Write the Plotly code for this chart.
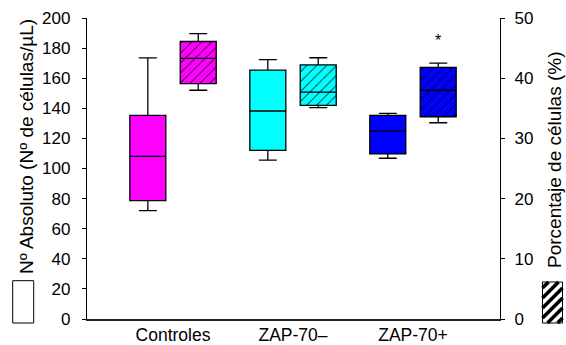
import plotly.graph_objects as go

categories = ["Controles", "ZAP-70–", "ZAP-70+"]
colors = ["#FF00FF", "#00FFFF", "#0000FF"]

# Nº absoluto (células/µL) - solid boxes, left axis
abs_low = [72.0, 105.5, 106.8]
abs_q1 = [78.6, 112.0, 109.7]
abs_med = [108.0, 138.2, 124.9]
abs_q3 = [135.3, 165.3, 135.3]
abs_high = [173.5, 172.4, 136.6]

# Porcentaje de células (%) - hatched boxes, right axis
pct_low = [38.0, 35.1, 32.6]
pct_q1 = [39.1, 35.5, 33.6]
pct_med = [43.3, 37.7, 38.0]
pct_q3 = [46.1, 42.2, 41.8]
pct_high = [47.4, 43.4, 42.5]

y_ticks = list(range(0, 201, 20))
y2_ticks = list(range(0, 51, 10))

W, H = 566, 345
L, R, T, B = 87, 66, 18, 26
FONT = "Liberation Sans, Arial, sans-serif"

OFF = 0.21
BW = 0.3

fig = go.Figure()

for i, cat in enumerate(categories):
    fig.add_trace(go.Box(
        x=[i - OFF], q1=[abs_q1[i]], median=[abs_med[i]], q3=[abs_q3[i]],
        lowerfence=[abs_low[i]], upperfence=[abs_high[i]],
        width=BW, whiskerwidth=0.5, fillcolor=colors[i],
        line=dict(color="black", width=1.3), boxpoints=False,
        showlegend=False, yaxis="y", name=cat))

for i, cat in enumerate(categories):
    fig.add_trace(go.Bar(
        x=[i + OFF], base=[pct_q1[i]], y=[pct_q3[i] - pct_q1[i]], width=BW,
        marker=dict(color=colors[i], line=dict(width=0),
                    pattern=dict(shape="/", fgcolor="black", bgcolor=colors[i],
                                 size=7, solidity=0.14, fillmode="replace")),
        showlegend=False, yaxis="y2", hoverinfo="skip"))
    fig.add_trace(go.Box(
        x=[i + OFF], q1=[pct_q1[i]], median=[pct_med[i]], q3=[pct_q3[i]],
        lowerfence=[pct_low[i]], upperfence=[pct_high[i]],
        width=BW, whiskerwidth=0.5, fillcolor="rgba(0,0,0,0)",
        line=dict(color="black", width=1.3), boxpoints=False,
        showlegend=False, yaxis="y2", name=cat))

pw = W - L - R
ph = H - T - B


def px(x):
    return (x - L) / pw


def py(y):
    return (H - B - y) / ph


shapes = []
# left legend swatch (white)
shapes.append(dict(type="rect", xref="paper", yref="paper",
                   x0=px(12.7), x1=px(33.7), y0=py(323), y1=py(280.7),
                   line=dict(color="black", width=1), fillcolor="white"))
# right legend swatch (hatched)
rx0, rx1, ry0, ry1 = 542.5, 562.5, 282.0, 323.0
shapes.append(dict(type="rect", xref="paper", yref="paper",
                   x0=px(rx0), x1=px(rx1), y0=py(ry1), y1=py(ry0),
                   line=dict(color="black", width=1), fillcolor="white"))
step = 10.0
c = rx0 + ry0 + 6
while c < rx1 + ry1:
    xa = max(rx0, c - ry1)
    xb = min(rx1, c - ry0)
    if xb - xa > 1:
        shapes.append(dict(type="line", xref="paper", yref="paper",
                           x0=px(xa), y0=py(c - xa), x1=px(xb), y1=py(c - xb),
                           line=dict(color="black", width=3.5)))
    c += step

annotations = [
    dict(text="Nº Absoluto (Nº de células/µL)", xref="paper", yref="paper",
         x=px(26), y=py(147), textangle=-90, showarrow=False,
         font=dict(size=19, color="black", family=FONT), xanchor="center", yanchor="middle"),
    dict(text="Porcentaje de células (%)", xref="paper", yref="paper",
         x=px(554), y=py(160), textangle=-90, showarrow=False,
         font=dict(size=19, color="black", family=FONT), xanchor="center", yanchor="middle"),
    dict(text="*", x=2 + OFF, y=46.2, xref="x", yref="y2", showarrow=False,
         font=dict(size=16, color="black", family=FONT), yanchor="middle"),
]

fig.update_layout(
    template="none",
    width=W, height=H, margin=dict(l=L, r=R, t=T, b=B, autoexpand=False),
    paper_bgcolor="white", plot_bgcolor="white",
    barmode="overlay", boxmode="overlay",
    font=dict(family=FONT, color="black"),
    xaxis=dict(range=[-0.717, 2.725], tickvals=[0, 1, 2], ticktext=categories,
               showline=True, linecolor="#222", linewidth=2, ticks="",
               showgrid=False, zeroline=False, tickfont=dict(size=17.5),
               ticklabelstandoff=-1, automargin=False),
    yaxis=dict(range=[0, 200], tickvals=y_ticks, showline=True, linecolor="black",
               linewidth=1.3, ticks="outside", ticklen=4, tickcolor="black",
               showgrid=False, zeroline=False, tickfont=dict(size=17),
               ticklabelstandoff=8, automargin=False),
    yaxis2=dict(range=[0, 50], tickvals=y2_ticks, overlaying="y", side="right",
                showline=True, linecolor="black", linewidth=1.3, ticks="outside",
                ticklen=4, tickcolor="black", showgrid=False, zeroline=False,
                tickfont=dict(size=17), ticklabelstandoff=6, automargin=False),
    shapes=shapes, annotations=annotations,
)

fig.write_html(
    "out.html",
    config={"displayModeBar": False},
    post_script="document.body.style.margin='0';document.body.style.overflow='hidden';",
)
